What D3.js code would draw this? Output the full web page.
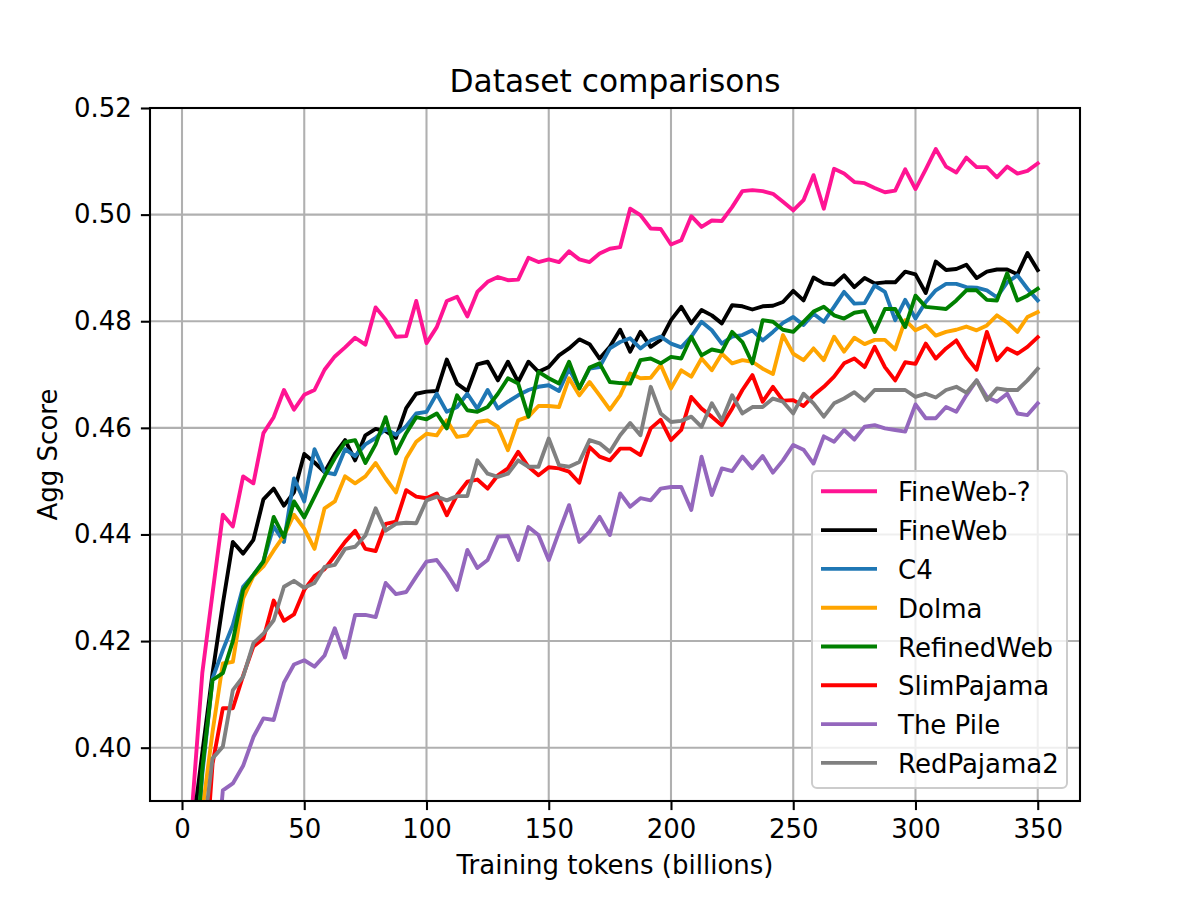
<!DOCTYPE html>
<html>
<head>
<meta charset="utf-8">
<title>Dataset comparisons</title>
<script src="https://cdn.jsdelivr.net/npm/d3@7"></script>
<style>
  body { margin: 0; background: #fff; }
  svg { display: block; }
  text { font-family: "DejaVu Sans", sans-serif; fill: #000; }
</style>
</head>
<body>
<div id="chart"></div>
<script>
/* ---- data: training tokens (billions) ---- */
const tokens = [
  4.2, 8.3, 12.5, 16.7, 20.8, 25.0, 29.2, 33.3, 37.5, 41.7, 45.8, 50.0,
  54.2, 58.3, 62.5, 66.7, 70.8, 75.0, 79.2, 83.3, 87.5, 91.7, 95.8, 100.0,
  104.2, 108.3, 112.5, 116.7, 120.8, 125.0, 129.2, 133.3, 137.5, 141.7, 145.8, 150.0,
  154.2, 158.3, 162.5, 166.7, 170.8, 175.0, 179.2, 183.3, 187.5, 191.7, 195.8, 200.0,
  204.2, 208.3, 212.5, 216.7, 220.8, 225.0, 229.2, 233.3, 237.5, 241.7, 245.8, 250.0,
  254.2, 258.3, 262.5, 266.7, 270.8, 275.0, 279.2, 283.3, 287.5, 291.7, 295.8, 300.0,
  304.2, 308.3, 312.5, 316.7, 320.8, 325.0, 329.2, 333.3, 337.5, 341.7, 345.8, 350.0
];

const seriesNames = ["FineWeb-?", "FineWeb", "C4", "Dolma", "RefinedWeb", "SlimPajama", "The Pile", "RedPajama2"];
const seriesColors = ["#ff1493", "#000000", "#1f77b4", "#ffa500", "#008000", "#ff0000", "#9467bd", "#808080"];

const fineWebQ = [
  0.389, 0.414, 0.429, 0.4437, 0.4415, 0.4509, 0.4496, 0.4590, 0.4620, 0.4671, 0.4634, 0.4662,
  0.4671, 0.4709, 0.4734, 0.4751, 0.4769, 0.4756, 0.4826, 0.4803, 0.4771, 0.4772, 0.4838, 0.4759,
  0.4789, 0.4838, 0.4846, 0.4809, 0.4855, 0.4874, 0.4883, 0.4877, 0.4878, 0.4919, 0.4911, 0.4916,
  0.4911, 0.4931, 0.4916, 0.4911, 0.4927, 0.4936, 0.4939, 0.5011, 0.4999, 0.4974, 0.4973, 0.4944,
  0.4952, 0.4997, 0.4977, 0.4989, 0.4988, 0.5014, 0.5044, 0.5046, 0.5044, 0.5039, 0.5024, 0.5008,
  0.5027, 0.5074, 0.5011, 0.5086, 0.5077, 0.5061, 0.5059, 0.5050, 0.5042, 0.5045, 0.5085, 0.5048,
  0.5085, 0.5123, 0.5090, 0.5079, 0.5107, 0.5089, 0.5089, 0.5070, 0.5090, 0.5077, 0.5082, 0.5096
];

const fineWeb = [
  0.384, 0.399, 0.414, 0.427, 0.4386, 0.4364, 0.4390, 0.4466, 0.4486, 0.4454, 0.4479, 0.4551,
  0.4535, 0.4517, 0.4551, 0.4577, 0.4539, 0.4586, 0.4598, 0.4594, 0.4581, 0.4637, 0.4664, 0.4668,
  0.4669, 0.4728, 0.4683, 0.4669, 0.4719, 0.4724, 0.4689, 0.4724, 0.4686, 0.4724, 0.4705, 0.4714,
  0.4736, 0.4749, 0.4766, 0.4757, 0.4730, 0.4752, 0.4784, 0.4743, 0.4780, 0.4752, 0.4765, 0.4802,
  0.4827, 0.4796, 0.4821, 0.4811, 0.4796, 0.4830, 0.4828, 0.4822, 0.4828, 0.4829, 0.4836, 0.4857,
  0.4839, 0.4882, 0.4871, 0.4869, 0.4886, 0.4864, 0.4881, 0.4871, 0.4873, 0.4873, 0.4893, 0.4888,
  0.4853, 0.4912, 0.4896, 0.4898, 0.4906, 0.4881, 0.4893, 0.4897, 0.4897, 0.4888, 0.4928, 0.4896
];

const c4 = [
  0.370, 0.395, 0.413, 0.4183, 0.4230, 0.4302, 0.4324, 0.4350, 0.4415, 0.4386, 0.4505, 0.4462,
  0.4560, 0.4517, 0.4513, 0.4560, 0.4547, 0.4569, 0.4581, 0.4598, 0.4587, 0.4603, 0.4627, 0.4630,
  0.4664, 0.4630, 0.4639, 0.4664, 0.4636, 0.4671, 0.4636, 0.4649, 0.4661, 0.4671, 0.4677, 0.4680,
  0.4669, 0.4711, 0.4674, 0.4711, 0.4714, 0.4749, 0.4761, 0.4768, 0.4749, 0.4764, 0.4771, 0.4758,
  0.4751, 0.4771, 0.4799, 0.4783, 0.4758, 0.4771, 0.4774, 0.4783, 0.4764, 0.4780, 0.4797, 0.4808,
  0.4793, 0.4814, 0.4799, 0.4827, 0.4855, 0.4833, 0.4834, 0.4867, 0.4855, 0.4802, 0.4840, 0.4805,
  0.4836, 0.4858, 0.4870, 0.4870, 0.4864, 0.4863, 0.4858, 0.4845, 0.4873, 0.4886, 0.4861, 0.4839
];

const dolma = [
  0.360, 0.388, 0.403, 0.4158, 0.4161, 0.4280, 0.4322, 0.4340, 0.4370, 0.4398, 0.4437, 0.4411,
  0.4373, 0.4449, 0.4462, 0.4509, 0.4496, 0.4509, 0.4534, 0.4505, 0.4479, 0.4543, 0.4574, 0.4589,
  0.4586, 0.4614, 0.4583, 0.4586, 0.4611, 0.4614, 0.4602, 0.4558, 0.4614, 0.4621, 0.4641, 0.4641,
  0.4639, 0.4693, 0.4661, 0.4686, 0.4661, 0.4634, 0.4661, 0.4702, 0.4693, 0.4694, 0.4718, 0.4674,
  0.4708, 0.4696, 0.4730, 0.4708, 0.4739, 0.4721, 0.4727, 0.4724, 0.4711, 0.4701, 0.4774, 0.4739,
  0.4727, 0.4749, 0.4727, 0.4771, 0.4743, 0.4769, 0.4757, 0.4765, 0.4765, 0.4747, 0.4802, 0.4783,
  0.4792, 0.4773, 0.4780, 0.4784, 0.4790, 0.4783, 0.4792, 0.4811, 0.4798, 0.4780, 0.4808, 0.4817
];

const refinedWeb = [
  0.370, 0.396, 0.4127, 0.4140, 0.4200, 0.4296, 0.4324, 0.4349, 0.4433, 0.4395, 0.4462, 0.4432,
  0.4471, 0.4509, 0.4543, 0.4573, 0.4577, 0.4534, 0.4569, 0.4620, 0.4552, 0.4590, 0.4620, 0.4616,
  0.4627, 0.4599, 0.4661, 0.4633, 0.4630, 0.4639, 0.4664, 0.4693, 0.4683, 0.4621, 0.4705, 0.4693,
  0.4683, 0.4724, 0.4674, 0.4713, 0.4721, 0.4686, 0.4684, 0.4683, 0.4727, 0.4730, 0.4721, 0.4733,
  0.4730, 0.4771, 0.4736, 0.4747, 0.4743, 0.4780, 0.4761, 0.4721, 0.4802, 0.4799, 0.4784, 0.4780,
  0.4799, 0.4818, 0.4827, 0.4811, 0.4805, 0.4816, 0.4819, 0.4780, 0.4823, 0.4823, 0.4789, 0.4848,
  0.4827, 0.4825, 0.4823, 0.4839, 0.4858, 0.4858, 0.4840, 0.4839, 0.4890, 0.4839, 0.4848, 0.4861
];

const slimPajama = [
  0.330, 0.370, 0.397, 0.4074, 0.4074, 0.4135, 0.4190, 0.4205, 0.4276, 0.4238, 0.4250, 0.4296,
  0.4322, 0.4335, 0.4360, 0.4386, 0.4407, 0.4373, 0.4369, 0.4420, 0.4424, 0.4483, 0.4471, 0.4468,
  0.4477, 0.4436, 0.4474, 0.4499, 0.4503, 0.4486, 0.4511, 0.4524, 0.4555, 0.4527, 0.4511, 0.4526,
  0.4524, 0.4518, 0.4497, 0.4564, 0.4546, 0.4539, 0.4561, 0.4561, 0.4549, 0.4599, 0.4615, 0.4577,
  0.4596, 0.4658, 0.4636, 0.4621, 0.4605, 0.4636, 0.4671, 0.4699, 0.4649, 0.4677, 0.4651, 0.4652,
  0.4641, 0.4661, 0.4677, 0.4696, 0.4721, 0.4730, 0.4714, 0.4752, 0.4714, 0.4689, 0.4723, 0.4720,
  0.4758, 0.4730, 0.4749, 0.4764, 0.4733, 0.4709, 0.4780, 0.4727, 0.4749, 0.4739, 0.4752, 0.4770
];

const thePile = [
  0.310, 0.340, 0.370, 0.3920, 0.3933, 0.3966, 0.4020, 0.4055, 0.4052, 0.4122, 0.4156, 0.4164,
  0.4152, 0.4173, 0.4224, 0.4169, 0.4249, 0.4249, 0.4245, 0.4309, 0.4288, 0.4292, 0.4321, 0.4349,
  0.4352, 0.4327, 0.4296, 0.4371, 0.4337, 0.4352, 0.4396, 0.4397, 0.4352, 0.4414, 0.4399, 0.4352,
  0.4405, 0.4455, 0.4386, 0.4405, 0.4433, 0.4399, 0.4477, 0.4452, 0.4468, 0.4464, 0.4486, 0.4489,
  0.4489, 0.4446, 0.4546, 0.4474, 0.4524, 0.4519, 0.4546, 0.4524, 0.4547, 0.4516, 0.4539, 0.4568,
  0.4559, 0.4533, 0.4584, 0.4574, 0.4596, 0.4578, 0.4602, 0.4605, 0.4599, 0.4596, 0.4593, 0.4644,
  0.4618, 0.4618, 0.4639, 0.4630, 0.4661, 0.4689, 0.4658, 0.4649, 0.4664, 0.4627, 0.4624, 0.4646
];

const redPajama2 = [
  0.330, 0.382, 0.398, 0.4002, 0.4108, 0.4133, 0.4196, 0.4214, 0.4239, 0.4302, 0.4313, 0.4300,
  0.4309, 0.4339, 0.4343, 0.4373, 0.4377, 0.4398, 0.4449, 0.4407, 0.4420, 0.4422, 0.4421, 0.4464,
  0.4471, 0.4464, 0.4472, 0.4472, 0.4539, 0.4514, 0.4508, 0.4514, 0.4539, 0.4527, 0.4527, 0.4580,
  0.4530, 0.4527, 0.4536, 0.4577, 0.4571, 0.4555, 0.4586, 0.4609, 0.4586, 0.4677, 0.4627, 0.4611,
  0.4613, 0.4621, 0.4602, 0.4646, 0.4614, 0.4661, 0.4627, 0.4639, 0.4639, 0.4655, 0.4649, 0.4627,
  0.4664, 0.4646, 0.4621, 0.4646, 0.4655, 0.4667, 0.4651, 0.4671, 0.4671, 0.4671, 0.4671, 0.4658,
  0.4664, 0.4657, 0.4671, 0.4677, 0.4666, 0.4689, 0.4652, 0.4674, 0.4671, 0.4671, 0.4689, 0.4711
];

const xTicks = [0, 50, 100, 150, 200, 250, 300, 350];
const yTicks = [0.40, 0.42, 0.44, 0.46, 0.48, 0.50, 0.52];
const yLimits = [0.39, 0.52];

(function () {
  "use strict";

  const WIDTH = 1200;
  const HEIGHT = 900;
  const AX = { left: 150, right: 1080, top: 108, bottom: 801 };
  const FONT_SIZE = 26;
  const TITLE_SIZE = 31.25;
  const LINE_WIDTH = 3.9;
  const GRID_COLOR = "#b0b0b0";
  const GRID_WIDTH = 2.08;
  const SPINE_WIDTH = 2.08;
  const TICK_LEN = 9.1;
  const TICK_PAD = 9.1;

  const allSeries = [fineWebQ, fineWeb, c4, dolma, refinedWeb, slimPajama, thePile, redPajama2];

  /* ---- scales (matplotlib style 5% x margin) ---- */
  const xExt = d3.extent(tokens);
  const xPad = (xExt[1] - xExt[0]) * 0.05;
  const x = d3.scaleLinear()
    .domain([xExt[0] - xPad, xExt[1] + xPad])
    .range([AX.left, AX.right]);
  const y = d3.scaleLinear()
    .domain(yLimits)
    .range([AX.bottom, AX.top]);

  const svg = d3.select("#chart").append("svg")
    .attr("width", WIDTH)
    .attr("height", HEIGHT)
    .attr("viewBox", "0 0 " + WIDTH + " " + HEIGHT);

  svg.append("rect")
    .attr("width", WIDTH).attr("height", HEIGHT)
    .attr("fill", "#fff");

  svg.append("defs").append("clipPath")
    .attr("id", "plot-clip")
    .append("rect")
    .attr("x", AX.left).attr("y", AX.top)
    .attr("width", AX.right - AX.left)
    .attr("height", AX.bottom - AX.top);

  /* ---- grid ---- */
  const gGrid = svg.append("g");
  gGrid.selectAll("line.vx")
    .data(xTicks)
    .enter().append("line")
    .attr("class", "vx")
    .attr("x1", function (d) { return x(d); })
    .attr("x2", function (d) { return x(d); })
    .attr("y1", AX.top).attr("y2", AX.bottom)
    .attr("stroke", GRID_COLOR)
    .attr("stroke-width", GRID_WIDTH);
  gGrid.selectAll("line.hy")
    .data(yTicks)
    .enter().append("line")
    .attr("class", "hy")
    .attr("x1", AX.left).attr("x2", AX.right)
    .attr("y1", function (d) { return y(d); })
    .attr("y2", function (d) { return y(d); })
    .attr("stroke", GRID_COLOR)
    .attr("stroke-width", GRID_WIDTH);

  /* ---- lines ---- */
  const line = d3.line()
    .x(function (d, i) { return x(tokens[i]); })
    .y(function (d) { return y(d); });

  const gLines = svg.append("g").attr("clip-path", "url(#plot-clip)");
  gLines.selectAll("path")
    .data(allSeries)
    .enter().append("path")
    .attr("d", line)
    .attr("fill", "none")
    .attr("stroke", function (d, i) { return seriesColors[i]; })
    .attr("stroke-width", LINE_WIDTH)
    .attr("stroke-linejoin", "round")
    .attr("stroke-linecap", "square");

  /* ---- axes ---- */
  const xAxis = d3.axisBottom(x)
    .tickValues(xTicks)
    .tickFormat(d3.format("d"))
    .tickSize(TICK_LEN)
    .tickSizeOuter(0)
    .tickPadding(TICK_PAD);
  const yAxis = d3.axisLeft(y)
    .tickValues(yTicks)
    .tickFormat(d3.format(".2f"))
    .tickSize(TICK_LEN)
    .tickSizeOuter(0)
    .tickPadding(TICK_PAD);

  const gx = svg.append("g")
    .attr("transform", "translate(0," + AX.bottom + ")")
    .call(xAxis);
  const gy = svg.append("g")
    .attr("transform", "translate(" + AX.left + ",0)")
    .call(yAxis);

  [gx, gy].forEach(function (g) {
    g.select(".domain").remove();
    g.selectAll(".tick line").attr("stroke", "#000").attr("stroke-width", SPINE_WIDTH);
    g.selectAll(".tick text")
      .attr("fill", "#000")
      .style("font-family", "'DejaVu Sans', sans-serif")
      .style("font-size", FONT_SIZE + "px");
  });

  /* ---- spines ---- */
  svg.append("rect")
    .attr("x", AX.left).attr("y", AX.top)
    .attr("width", AX.right - AX.left)
    .attr("height", AX.bottom - AX.top)
    .attr("fill", "none")
    .attr("stroke", "#000")
    .attr("stroke-width", SPINE_WIDTH);

  /* ---- title and labels ---- */
  svg.append("text")
    .attr("x", (AX.left + AX.right) / 2)
    .attr("y", 92)
    .attr("text-anchor", "middle")
    .style("font-size", TITLE_SIZE + "px")
    .text("Dataset comparisons");

  svg.append("text")
    .attr("x", (AX.left + AX.right) / 2)
    .attr("y", 874)
    .attr("text-anchor", "middle")
    .style("font-size", FONT_SIZE + "px")
    .text("Training tokens (billions)");

  svg.append("text")
    .attr("transform", "translate(57," + ((AX.top + AX.bottom) / 2) + ") rotate(-90)")
    .attr("text-anchor", "middle")
    .style("font-size", FONT_SIZE + "px")
    .text("Agg Score");

  /* ---- legend ---- */
  const LEG = { x: 812, y: 471, w: 255, h: 317, row0: 491.3, rowStep: 38.8 };
  const gLegend = svg.append("g");
  gLegend.append("rect")
    .attr("x", LEG.x).attr("y", LEG.y)
    .attr("width", LEG.w).attr("height", LEG.h)
    .attr("rx", 5).attr("ry", 5)
    .attr("fill", "#fff").attr("fill-opacity", 0.8)
    .attr("stroke", "#cccccc")
    .attr("stroke-width", 2);

  const rows = gLegend.selectAll("g.row")
    .data(seriesNames)
    .enter().append("g")
    .attr("class", "row")
    .attr("transform", function (d, i) { return "translate(0," + (LEG.row0 + i * LEG.rowStep) + ")"; });
  rows.append("line")
    .attr("x1", 821).attr("x2", 877)
    .attr("y1", 0).attr("y2", 0)
    .attr("stroke", function (d, i) { return seriesColors[i]; })
    .attr("stroke-width", LINE_WIDTH);
  rows.append("text")
    .attr("x", 898)
    .attr("y", 10)
    .style("font-size", FONT_SIZE + "px")
    .text(function (d) { return d; });
})();
</script>
</body>
</html>
